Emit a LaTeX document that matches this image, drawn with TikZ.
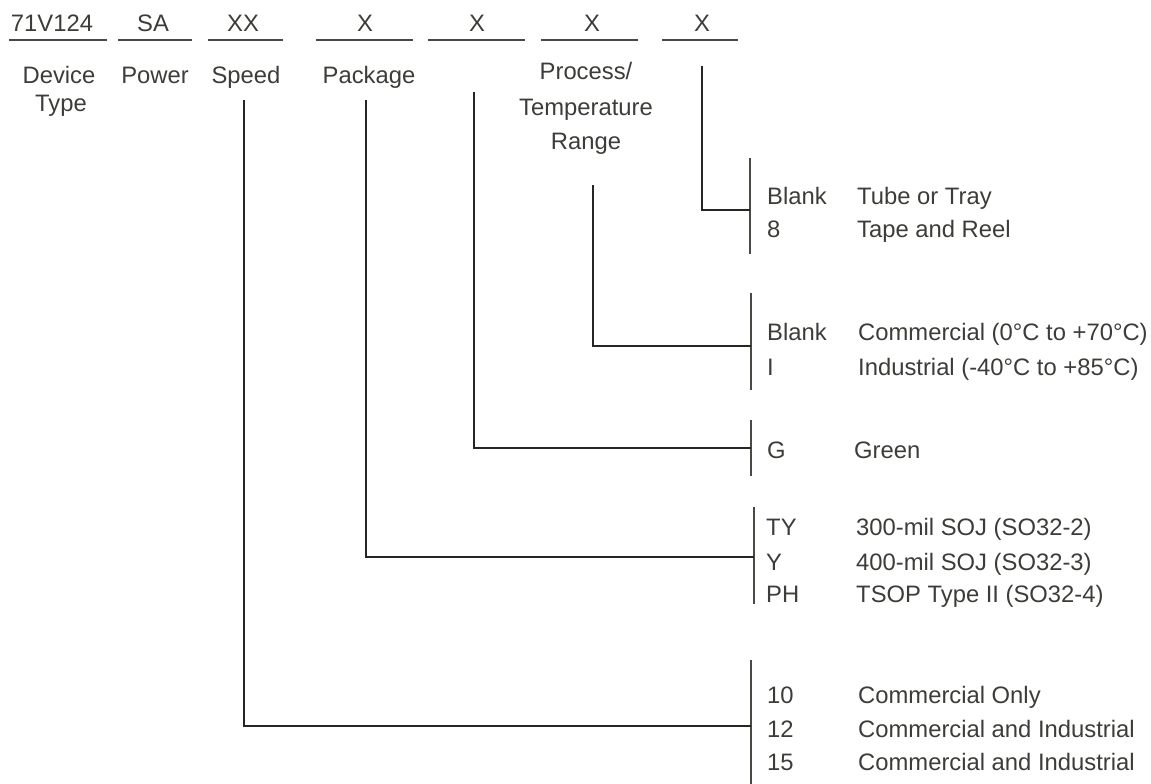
\documentclass[tikz,border=0pt]{standalone}
\usepackage{fontspec}
\setmainfont{Liberation Sans}
\usetikzlibrary{positioning}
\definecolor{inkc}{HTML}{3C3C38}
\definecolor{wirec}{HTML}{262624}
\definecolor{barc}{HTML}{4A4A44}

\begin{document}
\begin{tikzpicture}[x=1pt,y=-1pt,
  lbl/.style={text=inkc,inner sep=0pt,anchor=base,font=\fontsize{23.8}{28}\selectfont},
  opt/.style={lbl,anchor=base west},
  wire/.style={draw=wirec,line width=2.6pt},
  bar/.style={draw=barc,line width=2.8pt}]
\useasboundingbox (0,0) rectangle (1151,784);
% part number fields
\node[lbl] (dev) at (52,32) {71V124};
\node[lbl] (pwr) at (153,32) {SA};
\node[lbl] (spd) at (243,32) {XX};
\node[lbl] (pkg) at (365,32) {X};
\node[lbl] (grn) at (477,32) {X};
\node[lbl] (tmp) at (592,32) {X};
\node[lbl] (pck) at (702,32) {X};
\draw[bar] (9,40) -- (107,40);
\draw[bar] (118,40) -- (192,40);
\draw[bar] (208,40) -- (283,40);
\draw[bar] (316,40) -- (413,40);
\draw[bar] (428,40) -- (525,40);
\draw[bar] (541,40) -- (638,40);
\draw[bar] (662,40) -- (738,40);
% field names
\node[lbl] (devlbl) at (59,84) {Device};
\node[lbl] (devlbl2) at (61,111) {Type};
\node[lbl] (pwrlbl) at (155,84) {Power};
\node[lbl] (spdlbl) at (246,84) {Speed};
\node[lbl] (pkglbl) at (369,84) {Package};
\node[lbl] (tmplbl) at (586,80) {Process/};
\node[lbl] (tmplbl2) at (586,115) {Temperature};
\node[lbl] (tmplbl3) at (586,149) {Range};
% brackets
\coordinate (pckbar) at (750,210);
\coordinate (tmpbar) at (751,346);
\coordinate (grnbar) at (751,448);
\coordinate (pkgbar) at (754,557);
\coordinate (spdbar) at (751,726);
\draw[bar] (750,158) -- (750,254);
\draw[bar] (751,293) -- (751,390);
\draw[bar] (751,420) -- (751,476);
\draw[bar] (754,507) -- (754,604);
\draw[bar] (751,660) -- (751,784);
% connectors
\coordinate (pcktop) at (702,66);
\coordinate (tmptop) at (593,185);
\coordinate (grntop) at (474,92);
\coordinate (pkgtop) at (366,100);
\coordinate (spdtop) at (244,100);
\draw[wire] (pcktop) |- (pckbar);
\draw[wire] (tmptop) |- (tmpbar);
\draw[wire] (grntop) |- (grnbar);
\draw[wire] (pkgtop) |- (pkgbar);
\draw[wire] (spdtop) |- (spdbar);
% options
\node[opt] (pck1) at (767,204) {Blank};
\node[opt] (pck2) at (767,237) {8};
\node[opt] (pckd1) at (857,204) {Tube or Tray};
\node[opt] (pckd2) at (857,237) {Tape and Reel};
\node[opt] (tmp1) at (767,340) {Blank};
\node[opt] (tmp2) at (767,375) {I};
\node[opt] (tmpd1) at (858,340) {Commercial (0°C to +70°C)};
\node[opt] (tmpd2) at (858,375) {Industrial (-40°C to +85°C)};
\node[opt] (grn1) at (767,458) {G};
\node[opt] (grnd1) at (854,458) {Green};
\node[opt] (pkg1) at (766,535) {TY};
\node[opt] (pkg2) at (766,570) {Y};
\node[opt] (pkg3) at (766,602) {PH};
\node[opt] (pkgd1) at (856,535) {300-mil SOJ (SO32-2)};
\node[opt] (pkgd2) at (856,570) {400-mil SOJ (SO32-3)};
\node[opt] (pkgd3) at (856,602) {TSOP Type II (SO32-4)};
\node[opt] (spd1) at (767,703) {10};
\node[opt] (spd2) at (767,737) {12};
\node[opt] (spd3) at (767,770) {15};
\node[opt] (spdd1) at (858,703) {Commercial Only};
\node[opt] (spdd2) at (858,737) {Commercial and Industrial};
\node[opt] (spdd3) at (858,770) {Commercial and Industrial};
\end{tikzpicture}
\end{document}
